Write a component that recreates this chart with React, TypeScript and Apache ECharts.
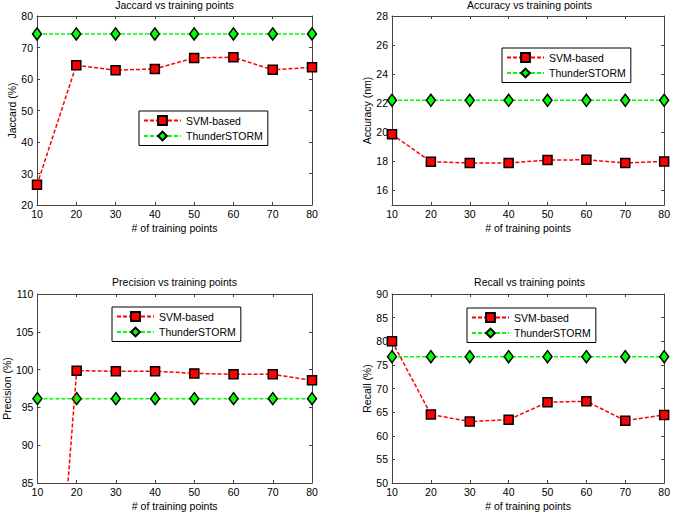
import React, { useEffect, useRef } from "react";
import * as echarts from "echarts";

const trainingPoints = [10, 20, 30, 40, 50, 60, 70, 80];

const jaccardSvm = [26.4, 64.4, 62.8, 63.2, 66.7, 66.9, 62.9, 63.7];
const jaccardThunder = [74.3, 74.3, 74.3, 74.3, 74.3, 74.3, 74.3, 74.3];

const accuracySvm = [19.86, 17.98, 17.89, 17.89, 18.09, 18.11, 17.89, 18.0];
const accuracyThunder = [22.2, 22.2, 22.2, 22.2, 22.2, 22.2, 22.2, 22.2];

const precisionSvm = [33.0, 99.86, 99.78, 99.78, 99.5, 99.37, 99.37, 98.58];
const precisionThunder = [96.16, 96.16, 96.16, 96.16, 96.16, 96.16, 96.16, 96.16];

const recallSvm = [80.0, 64.5, 63.0, 63.4, 67.1, 67.3, 63.2, 64.4];
const recallThunder = [76.74, 76.74, 76.74, 76.74, 76.74, 76.74, 76.74, 76.74];

const accuracyTicks = [16, 18, 20, 22, 24, 26, 28];

const titles = [
  "Jaccard vs training points",
  "Accuracy vs training points",
  "Precision vs training points",
  "Recall vs training points",
];
const yNames = ["Jaccard (%)", "Accuracy (nm)", "Precision (%)", "Recall (%)"];
const xName = "# of training points";
const seriesNames = ["SVM-based", "ThunderSTORM"];

const FONT = "'Liberation Sans', Arial, Helvetica, sans-serif";
const FS = 10.5;
const AXIS_COLOR = "#444";

export default function App() {
  const ref = useRef<HTMLDivElement>(null);

  useEffect(() => {
    if (!ref.current) return;
    const chart = echarts.init(ref.current, null, { renderer: "svg" });

    const grids = [
      { left: 37, top: 16, width: 275, height: 189 },
      { left: 392, top: 16, width: 275, height: 189 },
      { left: 37, top: 294, width: 275, height: 189 },
      { left: 392, top: 294, width: 275, height: 189 },
    ];

    const yRanges: any[] = [
      { min: 20, max: 80, interval: 10 },
      { min: 15, max: 28, custom: accuracyTicks },
      { min: 85, max: 110, interval: 5 },
      { min: 50, max: 90, interval: 5 },
    ];

    const xAxes: any[] = [];
    const yAxes: any[] = [];
    grids.forEach((g, i) => {
      const base = {
        gridIndex: i,
        type: "value",
        min: 10,
        max: 80,
        interval: 10,
        splitLine: { show: false },
        axisLine: { show: true, onZero: false, lineStyle: { color: AXIS_COLOR, width: 1 } },
        axisTick: { show: true, inside: true, length: 3, lineStyle: { color: AXIS_COLOR } },
      };
      xAxes.push({
        ...base,
        position: "bottom",
        name: xName,
        nameLocation: "middle",
        nameGap: 17,
        nameTextStyle: { fontFamily: FONT, fontSize: FS, color: "#000" },
        axisLabel: { show: true, margin: 3, fontFamily: FONT, fontSize: FS, color: "#000" },
      });
      xAxes.push({
        ...base,
        position: "top",
        axisLabel: { show: false },
      });
      const r = yRanges[i];
      const ybase: any = {
        gridIndex: i,
        type: "value",
        min: r.min,
        max: r.max,
        splitLine: { show: false },
        axisLine: { show: true, onZero: false, lineStyle: { color: AXIS_COLOR, width: 1 } },
        axisTick: { show: true, inside: true, length: 3, lineStyle: { color: AXIS_COLOR } },
      };
      if (r.custom) {
        ybase.axisTick.customValues = r.custom;
      } else {
        ybase.interval = r.interval;
      }
      const leftLabel: any = { show: true, margin: 4, fontFamily: FONT, fontSize: FS, color: "#000" };
      if (r.custom) leftLabel.customValues = r.custom;
      yAxes.push({
        ...ybase,
        position: "left",
        name: yNames[i],
        nameLocation: "middle",
        nameGap: 19,
        nameRotate: 90,
        nameTextStyle: { fontFamily: FONT, fontSize: FS, color: "#000" },
        axisLabel: leftLabel,
      });
      yAxes.push({
        ...ybase,
        axisTick: { ...ybase.axisTick },
        position: "right",
        axisLabel: { show: false },
      });
    });

    const svmData = [jaccardSvm, accuracySvm, precisionSvm, recallSvm];
    const thunderData = [jaccardThunder, accuracyThunder, precisionThunder, recallThunder];

    const series: any[] = [];
    for (let i = 0; i < 4; i++) {
      series.push({
        name: seriesNames[0],
        type: "line",
        xAxisIndex: i * 2,
        yAxisIndex: i * 2,
        data: trainingPoints.map((x, k) => [x, svmData[i][k]]),
        symbol: "rect",
        symbolSize: 9,
        clip: true,
        itemStyle: { color: "#ff0000", borderColor: "#000", borderWidth: 1.5 },
        lineStyle: { color: "#ff0000", width: 1.5, type: [4, 2] },
        z: 3,
      });
      series.push({
        name: seriesNames[1],
        type: "line",
        xAxisIndex: i * 2,
        yAxisIndex: i * 2,
        data: trainingPoints.map((x, k) => [x, thunderData[i][k]]),
        symbol: "diamond",
        symbolSize: [9, 12],
        clip: true,
        itemStyle: { color: "#00ff00", borderColor: "#000", borderWidth: 1.5 },
        lineStyle: { color: "#00ff00", width: 1.5, type: [4, 2] },
        z: 2,
      });
    }

    const legendPos = [
      { left: 139, top: 111 },
      { left: 502, top: 48 },
      { left: 112, top: 307 },
      { left: 467, top: 308 },
    ];
    const legends = legendPos.map((p) => ({
      ...p,
      orient: "vertical",
      data: seriesNames,
      selectedMode: false,
      backgroundColor: "#fff",
      borderColor: "#000",
      borderWidth: 1,
      borderRadius: 0,
      padding: [4, 5, 4, 4],
      itemWidth: 37,
      itemHeight: 11,
      itemGap: 4.5,
      textStyle: { fontFamily: FONT, fontSize: FS, color: "#000" },
      z: 10,
    }));

    const titleCfg = grids.map((g, i) => ({
      text: titles[i],
      left: g.left + g.width / 2,
      top: i < 2 ? -1 : 276,
      textAlign: "center",
      padding: 0,
      textStyle: { fontFamily: FONT, fontSize: FS, fontWeight: "normal", color: "#000" },
    }));

    chart.setOption({
      animation: false,
      backgroundColor: "#fff",
      title: titleCfg,
      legend: legends,
      grid: grids,
      xAxis: xAxes,
      yAxis: yAxes,
      series,
    });

    return () => {
      chart.dispose();
    };
  }, []);

  return (
    <div
      ref={ref}
      style={{ position: "absolute", left: 0, top: 0, width: 673, height: 512 }}
    />
  );
}
